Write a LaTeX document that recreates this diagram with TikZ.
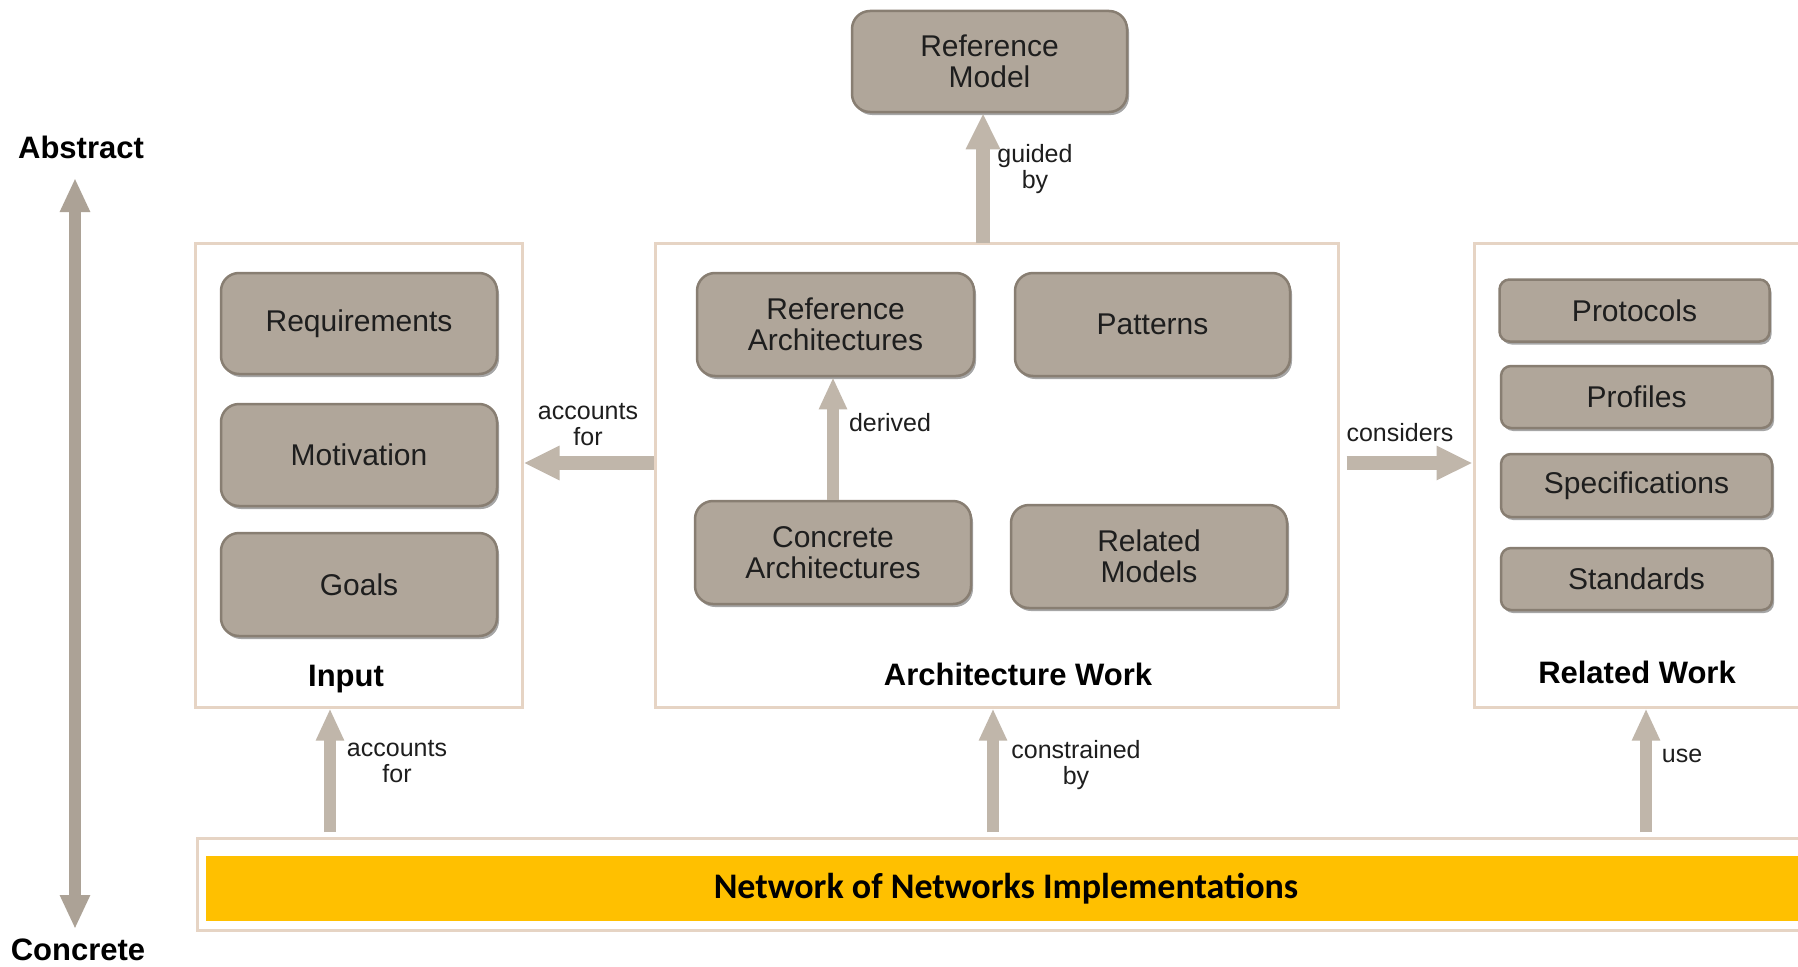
\documentclass[tikz,border=0pt]{standalone}
\usepackage{fontspec}
\setmainfont{Liberation Sans}
\newfontfamily\carlito{Carlito}
\usetikzlibrary{arrows.meta,shadows,calc}
\definecolor{boxfill}{RGB}{176,166,154}
\definecolor{boxedge}{RGB}{136,126,114}
\definecolor{frameline}{RGB}{230,212,196}
\definecolor{arrowcol}{RGB}{192,182,170}
\definecolor{axiscol}{RGB}{172,162,150}
\definecolor{txt}{RGB}{30,30,30}
\definecolor{gold}{RGB}{255,192,0}
\tikzset{
 item/.style={draw=boxedge, line width=2.5pt, fill=boxfill, rounded corners=18pt, text=txt, align=center, inner sep=0pt,
   font=\fontsize{30}{31}\selectfont, drop shadow={shadow xshift=2pt, shadow yshift=-3pt, opacity=.35, fill=black}},
 smallitem/.style={item, rounded corners=10pt},
 frame/.style={draw=frameline, line width=3pt, fill=white},
 bigarrow/.style={draw=arrowcol, line width=14pt, -{Triangle[width=32pt,length=36pt]}},
 midarrow/.style={draw=arrowcol, line width=12pt, -{Triangle[width=26pt,length=32pt]}},
 axisarrow/.style={draw=axiscol, line width=12pt, {Triangle[width=28pt,length=34pt]}-{Triangle[width=28pt,length=34pt]}},
 lbl/.style={text=txt, align=center, font=\fontsize{25}{26}\selectfont},
 title/.style={text=black, font=\bfseries\fontsize{31}{32}\selectfont},
}
\begin{document}
\begin{tikzpicture}[x=1pt,y=-1pt]
\clip (0,0) rectangle (1798,966);
\fill[white] (0,0) rectangle (1798,966);

% frames
\node[frame, minimum width=327, minimum height=464] (inputbox) at (358.5,475) {};
\node[frame, minimum width=683, minimum height=464] (archbox) at (996.5,475) {};
\node[frame, minimum width=340, minimum height=464] (relbox) at (1644,475) {};
\node[frame, minimum width=1620, minimum height=92] (implbox) at (1007,884) {};
\node[fill=gold, minimum width=1600, minimum height=65, inner sep=0pt,
      font=\carlito\bfseries\fontsize{36}{36}\selectfont] (impl) at (1006,888.5) {Network of Networks Implementations};

% axis
\node[title] (abs) at (81,147) {Abstract};
\node[title] (con) at (78,950) {Concrete};
\coordinate (axtop) at (75,178);
\coordinate (axbot) at (75,929);
\draw[axisarrow] (axtop) -- (axbot);

% items
\node[item, minimum width=275, minimum height=101] (refmodel) at (989.5,61.5) {Reference\\Model};
\node[item, minimum width=276, minimum height=101] (req) at (359,323.5) {Requirements};
\node[item, minimum width=276, minimum height=102] (mot) at (359,455) {Motivation};
\node[item, minimum width=276, minimum height=103] (goals) at (359,584.5) {Goals};
\node[item, minimum width=277, minimum height=103] (refarch) at (835.5,324.5) {Reference\\Architectures};
\node[item, minimum width=275, minimum height=103] (patterns) at (1152.5,324.5) {Patterns};
\node[item, minimum width=276, minimum height=103] (concarch) at (833,552.5) {Concrete\\Architectures};
\node[item, minimum width=276, minimum height=103] (relmod) at (1149,556.5) {Related\\Models};
\node[smallitem, minimum width=270, minimum height=62] (proto) at (1634.5,310.5) {Protocols};
\node[smallitem, minimum width=271, minimum height=62] (prof) at (1636.5,397) {Profiles};
\node[smallitem, minimum width=271, minimum height=63] (spec) at (1636.5,485.5) {Specifications};
\node[smallitem, minimum width=271, minimum height=62] (std) at (1636.5,579) {Standards};

% frame titles
\node[title] (inputlbl) at (346,679) {Input};
\node[title] (archlbl) at (1018,674) {Architecture Work};
\node[title] (rellbl) at (1637,672) {Related Work};

% arrows
\coordinate (g0) at (983,243);
\draw[bigarrow] (g0) -- (g0 |- refmodel.south);
\draw[bigarrow] ([yshift=12pt]archbox.west) -- ([yshift=12pt]inputbox.east);
\draw[bigarrow] ([xshift=7pt,yshift=12pt]archbox.east) -- ([yshift=12pt]relbox.west);
\draw[midarrow] (concarch.north) -- (concarch.north |- refarch.south);
\coordinate (b1) at (330,832);
\coordinate (b2) at (993,832);
\coordinate (b3) at (1646,832);
\draw[midarrow] (b1) -- (b1 |- inputbox.south);
\draw[midarrow] (b2) -- (b2 |- archbox.south);
\draw[midarrow] (b3) -- (b3 |- relbox.south);

% labels
\node[lbl] (lg) at (1035,169) {guided\\by};
\node[lbl] (la1) at (588,425) {accounts\\for};
\node[lbl] (ld) at (890,423) {derived};
\node[lbl] (lc) at (1400,433) {considers};
\node[lbl] (la2) at (397,762) {accounts\\for};
\node[lbl] (lcb) at (1076,765) {constrained\\by};
\node[lbl] (lu) at (1682,756) {use};
\end{tikzpicture}
\end{document}
